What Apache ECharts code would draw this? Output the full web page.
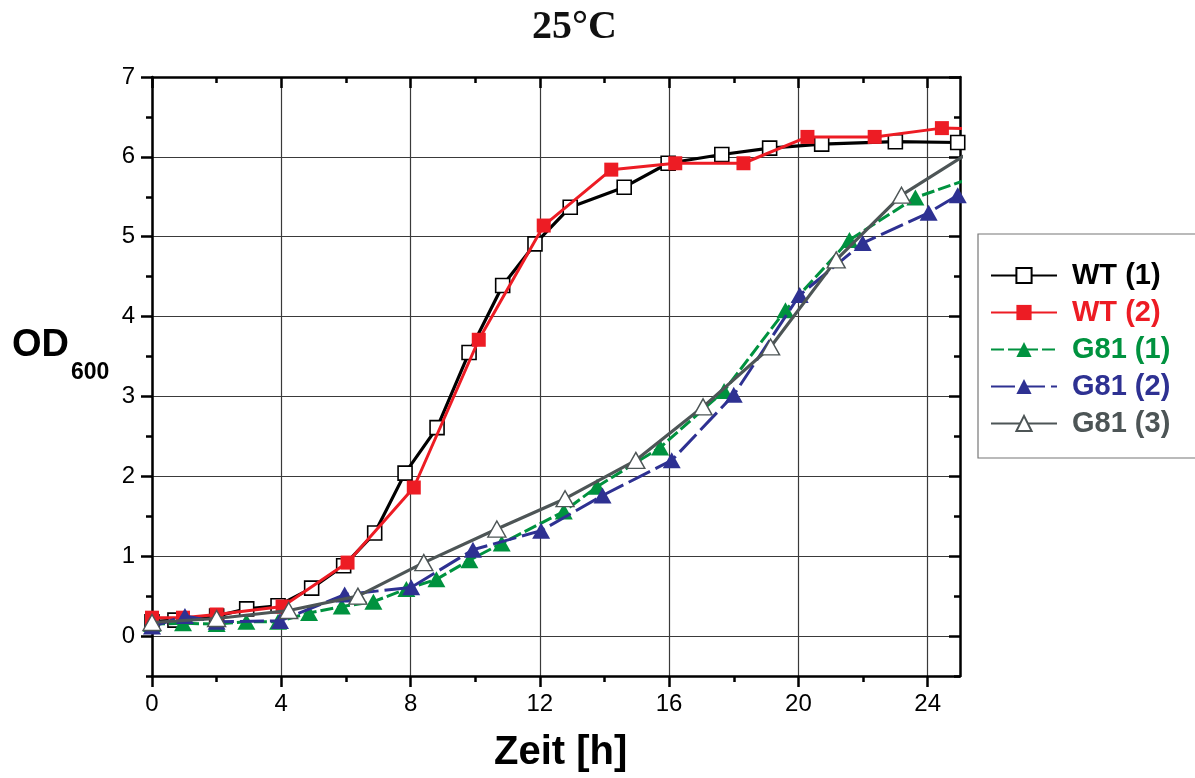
<!DOCTYPE html>
<html>
<head>
<meta charset="utf-8">
<script src="https://cdn.jsdelivr.net/npm/echarts@6/dist/echarts.min.js"></script>
<style>
html,body{margin:0;padding:0;background:#fff;}
#chart{width:1195px;height:778px;}
</style>
</head>
<body>
<div id="chart"></div>
<script>
// ---- data (time in h, OD600) ----
const hoursWT1 = [0, 0.71, 2.0, 2.93, 3.9, 4.94, 5.93, 6.89, 7.83, 8.82, 9.81, 10.85, 11.85, 12.94, 14.61, 15.97, 17.63, 19.11, 20.72, 23.0, 24.93];
const odWT1    = [0.18, 0.2, 0.25, 0.34, 0.38, 0.6, 0.88, 1.29, 2.04, 2.61, 3.55, 4.39, 4.91, 5.37, 5.62, 5.92, 6.03, 6.11, 6.16, 6.19, 6.18];

const hoursWT2 = [0, 0.96, 2.0, 4.04, 6.05, 8.1, 10.11, 12.12, 14.21, 16.19, 18.3, 20.28, 22.36, 24.44, 26.4];
const odWT2    = [0.23, 0.23, 0.27, 0.37, 0.92, 1.86, 3.71, 5.14, 5.84, 5.92, 5.92, 6.25, 6.25, 6.36, 6.34];

const hoursG1 = [0, 0.96, 2.0, 2.92, 3.9, 4.86, 5.87, 6.85, 7.87, 8.8, 9.82, 10.82, 12.74, 13.77, 15.72, 17.7, 19.6, 21.58, 23.62, 25.6];
const odG1    = [0.15, 0.16, 0.15, 0.18, 0.18, 0.29, 0.37, 0.43, 0.59, 0.71, 0.95, 1.16, 1.56, 1.87, 2.36, 3.07, 4.08, 4.96, 5.49, 5.77];

const hoursG2 = [0, 1.02, 2.0, 3.96, 5.96, 8.02, 9.93, 12.04, 13.94, 16.08, 18.0, 20.04, 21.99, 24.03, 24.93];
const odG2    = [0.12, 0.25, 0.18, 0.19, 0.52, 0.61, 1.08, 1.32, 1.76, 2.2, 3.02, 4.27, 4.92, 5.3, 5.52];

const hoursG3 = [0, 2.0, 4.23, 6.37, 8.41, 10.67, 12.78, 14.97, 17.05, 19.14, 21.17, 23.19, 25.3];
const odG3    = [0.17, 0.22, 0.32, 0.5, 0.92, 1.34, 1.72, 2.2, 2.87, 3.62, 4.71, 5.52, 6.06];

const seriesNames = ['WT (1)', 'WT (2)', 'G81 (1)', 'G81 (2)', 'G81 (3)'];
const xMajorTicks = [0, 4, 8, 12, 16, 20, 24];
const xMinorTicks = [2, 6, 10, 14, 18, 22];
const yMajorTicks = [0, 1, 2, 3, 4, 5, 6, 7];
const yMinorTicks = [-0.5, 0.5, 1.5, 2.5, 3.5, 4.5, 5.5, 6.5];

const zip = (xs, ys) => xs.map((x, i) => [x, ys[i]]);

const FONT = 'Liberation Sans, Arial, sans-serif';
const X_MIN = 0, X_MAX = 25, Y_MIN = -0.5, Y_MAX = 7;

function xAx(pos, major, inside, extra) {
  return Object.assign({
    type: 'value', position: pos, min: X_MIN, max: X_MAX,
    minInterval: major ? 4 : 2, maxInterval: major ? 4 : 2,
    axisLine: { show: major, onZero: false, lineStyle: { color: '#000', width: 2.5 } },
    axisTick: { show: true, inside: inside, length: major ? 11 : 6,
      customValues: major ? xMajorTicks : xMinorTicks,
      lineStyle: { color: '#000', width: 2.5 } },
    axisLabel: { show: false },
    splitLine: { show: false }
  }, extra || {});
}
function yAx(pos, major, inside, extra) {
  return Object.assign({
    type: 'value', position: pos, min: Y_MIN, max: Y_MAX,
    minInterval: major ? 1 : 0.5, maxInterval: major ? 1 : 0.5,
    axisLine: { show: major, onZero: false, lineStyle: { color: '#000', width: 2.5 } },
    axisTick: { show: true, inside: inside, length: major ? 11 : 6,
      customValues: major ? yMajorTicks : yMinorTicks,
      lineStyle: { color: '#000', width: 2.5 } },
    axisLabel: { show: false },
    splitLine: { show: false }
  }, extra || {});
}

const chart = echarts.init(document.getElementById('chart'), null, { renderer: 'canvas' });

const option = {
  animation: false,
  backgroundColor: '#fff',
  grid: { left: 152, right: 235, top: 77, bottom: 102, containLabel: false },
  xAxis: [
    xAx('bottom', true, false, {
      axisLabel: { show: true, customValues: xMajorTicks, fontSize: 24, fontFamily: FONT, color: '#000', margin: 16,
        formatter: v => (v % 4 === 0 && v <= 24) ? String(v) : '' },
      splitLine: { show: true, lineStyle: { color: '#3a3a3a', width: 1.2 } }
    }),
    xAx('bottom', false, false),
    xAx('top', true, true),
    xAx('top', false, true)
  ],
  yAxis: [
    yAx('left', true, false, {
      axisLabel: { show: true, customValues: yMajorTicks, fontSize: 24, fontFamily: FONT, color: '#000', margin: 17,
        formatter: v => (Number.isInteger(v) && v >= 0) ? String(v) : '' },
      splitLine: { show: true, lineStyle: { color: '#3a3a3a', width: 1.2 } }
    }),
    yAx('left', false, false),
    yAx('right', true, true),
    yAx('right', false, true)
  ],
  legend: {
    orient: 'vertical', left: 978, top: 234,
    padding: [27, 40, 20, 12],
    itemWidth: 66, itemHeight: 19, itemGap: 8,
    selectedMode: false,
    borderColor: '#777', borderWidth: 1.2, backgroundColor: '#fff',
    textStyle: { fontSize: 29, fontWeight: 'bold', fontFamily: FONT, lineHeight: 28, padding: [0, 0, 0, 10] },
    data: [
      { name: 'WT (1)', textStyle: { color: '#000000' } },
      { name: 'WT (2)', textStyle: { color: '#ed1c24' } },
      { name: 'G81 (1)', textStyle: { color: '#00923f' } },
      { name: 'G81 (2)', textStyle: { color: '#2e3192' } },
      { name: 'G81 (3)', textStyle: { color: '#4d5556' } }
    ]
  },
  graphic: [
    { type: 'text', left: 575 - 43, top: 8, style: { text: '25°C', fontSize: 40, fontWeight: 'bold', fontFamily: 'Liberation Serif, Times New Roman, serif', fill: '#111' } },
    { type: 'text', left: 12, top: 327, style: { text: 'OD', fontSize: 38, fontWeight: 'bold', fontFamily: FONT, fill: '#000' } },
    { type: 'text', left: 71, top: 361, style: { text: '600', fontSize: 23, fontWeight: 'bold', fontFamily: FONT, fill: '#000' } },
    { type: 'text', left: 494, top: 733, style: { text: 'Zeit [h]', fontSize: 40, fontWeight: 'bold', fontFamily: FONT, fill: '#000' } }
  ],
  series: [
    {
      name: seriesNames[0], type: 'line', data: zip(hoursWT1, odWT1), clip: true,
      symbol: 'rect', symbolSize: 14, showAllSymbol: true, z: 3,
      lineStyle: { color: '#000000', width: 3.2 },
      itemStyle: { color: '#ffffff', borderColor: '#000000', borderWidth: 1.6 }
    },
    {
      name: seriesNames[1], type: 'line', data: zip(hoursWT2, odWT2), clip: true,
      symbol: 'rect', symbolSize: 14, showAllSymbol: true, z: 4,
      lineStyle: { color: '#ed1c24', width: 3 },
      itemStyle: { color: '#ed1c24', borderColor: '#ed1c24', borderWidth: 0 }
    },
    {
      name: seriesNames[2], type: 'line', data: zip(hoursG1, odG1), clip: true,
      symbol: 'triangle', symbolSize: [18, 16], showAllSymbol: true, z: 5,
      lineStyle: { color: '#00923f', width: 3, type: [13, 4] },
      itemStyle: { color: '#00923f', borderWidth: 0 }
    },
    {
      name: seriesNames[3], type: 'line', data: zip(hoursG2, odG2), clip: true,
      symbol: 'triangle', symbolSize: [18, 16], showAllSymbol: true, z: 6,
      lineStyle: { color: '#2e3192', width: 3, type: [24, 6] },
      itemStyle: { color: '#2e3192', borderWidth: 0 }
    },
    {
      name: seriesNames[4], type: 'line', data: zip(hoursG3, odG3), clip: true,
      symbol: 'triangle', symbolSize: [18, 16], showAllSymbol: true, z: 7,
      lineStyle: { color: '#4d5556', width: 3.2 },
      itemStyle: { color: '#ffffff', borderColor: '#4d5556', borderWidth: 1.4 }
    }
  ]
};
chart.setOption(option);
</script>
</body>
</html>
